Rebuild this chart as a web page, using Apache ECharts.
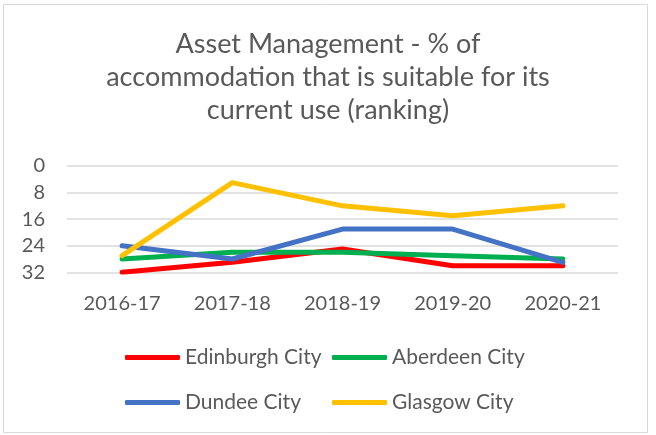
<!DOCTYPE html>
<html>
<head>
<meta charset="utf-8">
<script src="https://cdn.jsdelivr.net/npm/echarts@6/dist/echarts.min.js"></script>
<style>
  html, body { margin: 0; padding: 0; background: #fff; }
  #chart { width: 656px; height: 435px; }
</style>
</head>
<body>
<div id="chart"></div>
<script>
// Ranking per council, lower number = better position
const years = ['2016-17', '2017-18', '2018-19', '2019-20', '2020-21'];
const edinburgh = [32, 29, 25, 30, 30];
const aberdeen = [28, 26, 26, 27, 28];
const dundee = [24, 28, 19, 19, 29];
const glasgow = [27, 5, 12, 15, 12];
const seriesNames = ['Edinburgh City', 'Aberdeen City', 'Dundee City', 'Glasgow City'];
const seriesColors = ['#ff0000', '#00b050', '#4472c4', '#ffc000'];
const seriesValues = [edinburgh, aberdeen, dundee, glasgow];

const FONT = 'Lato, "Open Sans", sans-serif';
const TEXT = '#595959';

const chart = echarts.init(document.getElementById('chart'));

// one legend box per entry, laid out in a 2x2 block
const legendPos = [[125, 347], [332, 347], [125, 392], [332, 392]];
const legends = seriesNames.map((name, i) => ({
  data: [name],
  left: legendPos[i][0],
  top: legendPos[i][1],
  orient: 'horizontal',
  icon: 'roundRect',
  itemWidth: 55,
  itemHeight: 5,
  padding: 0,
  selectedMode: false,
  textStyle: { fontFamily: FONT, fontSize: 21, color: TEXT }
}));

chart.setOption({
  animation: false,
  backgroundColor: '#fff',
  title: {
    text: 'Asset Management - % of\naccommodation that is suitable for its\ncurrent use (ranking)',
    left: 'center',
    top: 23,
    textStyle: {
      fontFamily: FONT,
      fontSize: 27,
      fontWeight: 'normal',
      color: TEXT,
      lineHeight: 33
    }
  },
  legend: legends,
  grid: { left: 67, right: 38, top: 166, height: 106.3 },
  xAxis: {
    type: 'category',
    data: years,
    boundaryGap: true,
    axisLine: { show: false },
    axisTick: { show: false },
    axisLabel: { fontFamily: FONT, fontSize: 20, color: TEXT, margin: 21 }
  },
  yAxis: {
    type: 'value',
    inverse: true,
    min: 0,
    max: 32,
    interval: 8,
    axisLine: { show: false },
    axisTick: { show: false },
    axisLabel: { fontFamily: FONT, fontSize: 20, color: TEXT, margin: 22 },
    splitLine: { lineStyle: { color: '#d9d9d9', width: 1.5 } }
  },
  graphic: [{
    type: 'rect',
    shape: { x: 3.5, y: 4.5, width: 644, height: 428 },
    style: { fill: 'none', stroke: '#d9d9d9', lineWidth: 1 },
    silent: true,
    z: -10
  }],
  series: seriesNames.map((name, i) => ({
    name: name,
    type: 'line',
    data: seriesValues[i],
    showSymbol: false,
    symbol: 'none',
    color: seriesColors[i],
    lineStyle: { width: 5, color: seriesColors[i], cap: 'round', join: 'round' }
  }))
});
</script>
</body>
</html>
